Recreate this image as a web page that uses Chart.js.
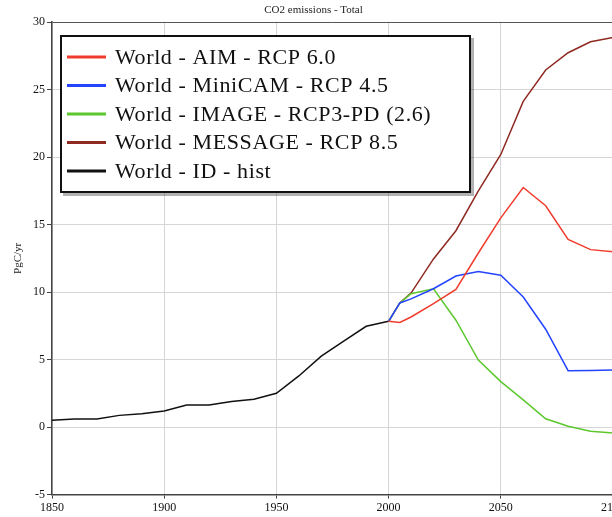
<!DOCTYPE html>
<html>
<head>
<meta charset="utf-8">
<script src="https://cdn.jsdelivr.net/npm/chart.js@4.4.1/dist/chart.umd.min.js"></script>
<style>
  body { margin: 0; background: #fff; overflow: hidden; }
  #wrap { width: 612px; height: 517px; overflow: hidden; position: relative; }
  canvas { display: block; }
</style>
</head>
<body>
<div id="wrap"><canvas id="chart" width="627" height="517"></canvas></div>
<script>
// historical and scenario years
const histYears = [1850, 1860, 1870, 1880, 1890, 1900, 1910, 1920, 1930, 1940, 1950, 1960, 1970, 1980, 1990, 2000];
const histValues = [0.5, 0.6, 0.6, 0.87, 0.99, 1.19, 1.63, 1.63, 1.9, 2.07, 2.51, 3.79, 5.26, 6.37, 7.47, 7.84];

const rcpYears = [2000, 2005, 2010, 2020, 2030, 2040, 2050, 2060, 2070, 2080, 2090, 2100];
const aimValues = [7.84, 7.75, 8.16, 9.15, 10.2, 12.9, 15.5, 17.75, 16.4, 13.9, 13.15, 13.0];
const minicamValues = [7.84, 9.2, 9.5, 10.25, 11.19, 11.53, 11.26, 9.64, 7.25, 4.18, 4.2, 4.23];
const imageValues = [7.84, 9.2, 9.88, 10.25, 7.92, 4.97, 3.37, 2.02, 0.62, 0.06, -0.31, -0.43];
const messageValues = [7.84, 9.2, 9.93, 12.46, 14.55, 17.5, 20.2, 24.13, 26.46, 27.74, 28.55, 28.87];

const seriesLabels = [
    'World - AIM - RCP 6.0',
    'World - MiniCAM - RCP 4.5',
    'World - IMAGE - RCP3-PD (2.6)',
    'World - MESSAGE - RCP 8.5',
    'World - ID - hist'
];
const seriesColors = ['#f03c2c', '#2444ff', '#5cc82e', '#8e2a22', '#111111'];

function toPoints(xs, ys) {
    return xs.map((x, i) => ({ x: x, y: ys[i] }));
}

const seriesData = [
    toPoints(rcpYears, aimValues),
    toPoints(rcpYears, minicamValues),
    toPoints(rcpYears, imageValues),
    toPoints(rcpYears, messageValues),
    toPoints(histYears, histValues)
];

const serif = "'Liberation Serif', 'DejaVu Serif', serif";

// legend box drawn inside the plot, on top of the lines
const boxLegend = {
    id: 'boxLegend',
    afterDatasetsDraw(chart) {
        const ctx = chart.ctx;
        const x0 = 61, y0 = 36, w = 409, h = 156;
        ctx.save();
        ctx.fillStyle = 'rgba(0,0,0,0.3)';
        ctx.fillRect(x0 + 2, y0 + 2, w + 2, h + 2);
        ctx.fillStyle = '#fff';
        ctx.fillRect(x0, y0, w, h);
        ctx.strokeStyle = '#111';
        ctx.lineWidth = 2;
        ctx.strokeRect(x0, y0, w, h);
        ctx.font = '22px ' + serif;
        ctx.letterSpacing = '0.6px';
        ctx.textBaseline = 'middle';
        chart.data.datasets.forEach((ds, i) => {
            const y = 57 + i * 28.5;
            ctx.strokeStyle = ds.borderColor;
            ctx.lineWidth = 3;
            ctx.beginPath();
            ctx.moveTo(67, y);
            ctx.lineTo(106, y);
            ctx.stroke();
            ctx.fillStyle = '#111';
            ctx.fillText(ds.label, 115, y + 1);
        });
        ctx.restore();
    }
};

new Chart(document.getElementById('chart'), {
    type: 'line',
    data: {
        datasets: seriesLabels.map((label, i) => ({
            label: label,
            data: seriesData[i],
            borderColor: seriesColors[i],
            backgroundColor: seriesColors[i],
            borderWidth: 1.5,
            pointRadius: 0,
            tension: 0,
            fill: false
        }))
    },
    options: {
        responsive: false,
        animation: false,
        layout: { padding: { left: 0, right: 0, top: 0, bottom: 0 } },
        plugins: {
            legend: { display: false },
            tooltip: { enabled: false },
            title: {
                display: true,
                text: 'CO2 emissions - Total',
                color: '#222',
                font: { family: serif, size: 11, weight: 'normal' },
                padding: { top: 4, bottom: 5 }
            }
        },
        scales: {
            x: {
                type: 'linear',
                min: 1850,
                max: 2100,
                ticks: {
                    stepSize: 50,
                    color: '#111',
                    font: { family: serif, size: 12 },
                    maxRotation: 0,
                    padding: 2,
                    callback: v => String(v)
                },
                grid: { color: '#d6d6d6', tickColor: '#444', tickLength: 4 },
                border: { color: '#444', width: 1.5 }
            },
            y: {
                min: -5,
                max: 30,
                ticks: {
                    stepSize: 5,
                    color: '#111',
                    font: { family: serif, size: 12 },
                    padding: 2
                },
                grid: {
                    color: c => (c.tick && c.tick.value === 30) ? '#555' : '#d6d6d6',
                    tickColor: '#444',
                    tickLength: 5
                },
                border: { color: '#444', width: 1.5 },
                title: {
                    display: true,
                    text: 'PgC/yr',
                    color: '#222',
                    font: { family: serif, size: 11 },
                    padding: { top: 12, bottom: 0 }
                },
                afterFit: scale => { scale.width = 52; }
            }
        }
    },
    plugins: [boxLegend]
});
</script>
</body>
</html>
